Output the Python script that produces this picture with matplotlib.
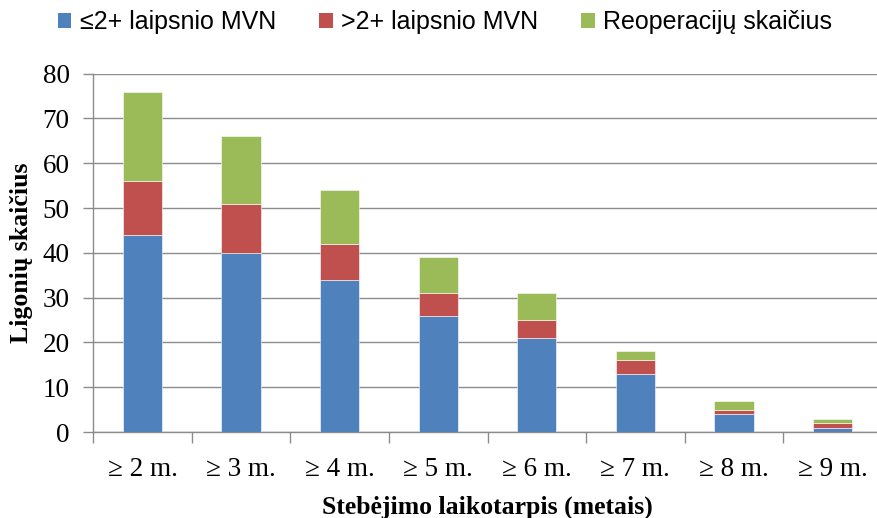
import matplotlib
matplotlib.use("Agg")
import matplotlib.pyplot as plt
import numpy as np
from matplotlib.font_manager import FontProperties
from matplotlib.patches import Patch

categories = ["≥ 2 m.", "≥ 3 m.", "≥ 4 m.", "≥ 5 m.", "≥ 6 m.", "≥ 7 m.", "≥ 8 m.", "≥ 9 m."]
mvn_low = [44, 40, 34, 26, 21, 13, 4, 1]
mvn_high = [12, 11, 8, 5, 4, 3, 1, 1]
reoperations = [20, 15, 12, 8, 6, 2, 2, 1]
series_names = ["≤2+ laipsnio MVN", ">2+ laipsnio MVN", "Reoperacijų skaičius"]
colors = ["#4F81BD", "#C0504D", "#9BBB59"]
y_ticks = [0, 10, 20, 30, 40, 50, 60, 70, 80]

serif = ["Liberation Serif", "DejaVu Serif"]
narrow = ["Liberation Sans Narrow", "Liberation Sans", "DejaVu Sans"]
axis_gray = "#8c8c8c"

fig = plt.figure(figsize=(8.78, 5.18), dpi=100)
ax = fig.add_axes([93.3 / 878, (518 - 432) / 518, (881.7 - 93.3) / 878, (432 - 73.7) / 518])

x = np.arange(len(categories))
width = 0.4
bottom = np.zeros(len(categories))
for vals, col in zip([mvn_low, mvn_high, reoperations], colors):
    ax.bar(x, vals, width, bottom=bottom, color=col, edgecolor="white", linewidth=0.4, zorder=3)
    bottom += np.array(vals)

ax.set_xlim(-0.5, len(categories) - 0.5)
ax.set_ylim(0, 80)
ax.set_yticks(y_ticks)
ax.set_yticklabels([str(t) for t in y_ticks], fontfamily=serif, fontsize=19.5)
ax.yaxis.grid(True, color=axis_gray, linewidth=1.0, zorder=0)
ax.set_axisbelow(True)

ax.set_xticks(x)
ax.set_xticklabels(categories, fontfamily=serif, fontsize=19.5)
ax.set_xticks(np.arange(-0.5, len(categories), 1.0), minor=True)
ax.tick_params(axis="x", which="major", length=0, pad=18)
ax.tick_params(axis="x", which="minor", length=8, width=1.0, color=axis_gray, direction="out")
ax.tick_params(axis="y", length=7, width=1.0, color=axis_gray, direction="out", pad=10)

for side in ["top", "right"]:
    ax.spines[side].set_visible(False)
for side in ["left", "bottom"]:
    ax.spines[side].set_color(axis_gray)
    ax.spines[side].set_linewidth(1.0)

ax.set_ylabel("Ligonių skaičius", fontfamily=serif, fontsize=18.5, fontweight="bold", labelpad=7)
ax.set_xlabel("Stebėjimo laikotarpis (metais)", fontfamily=serif, fontsize=18.5, fontweight="bold", labelpad=9.5)

handles = [Patch(facecolor=c, edgecolor="none") for c in colors]
fig.legend(handles, series_names, loc="center", bbox_to_anchor=(445 / 878, 1 - 22 / 518),
           ncol=3, frameon=False, prop=FontProperties(family=narrow, size=18),
           handlelength=0.55, handleheight=0.55, handletextpad=0.35, columnspacing=1.7)

fig.savefig("out.png", dpi=100)
